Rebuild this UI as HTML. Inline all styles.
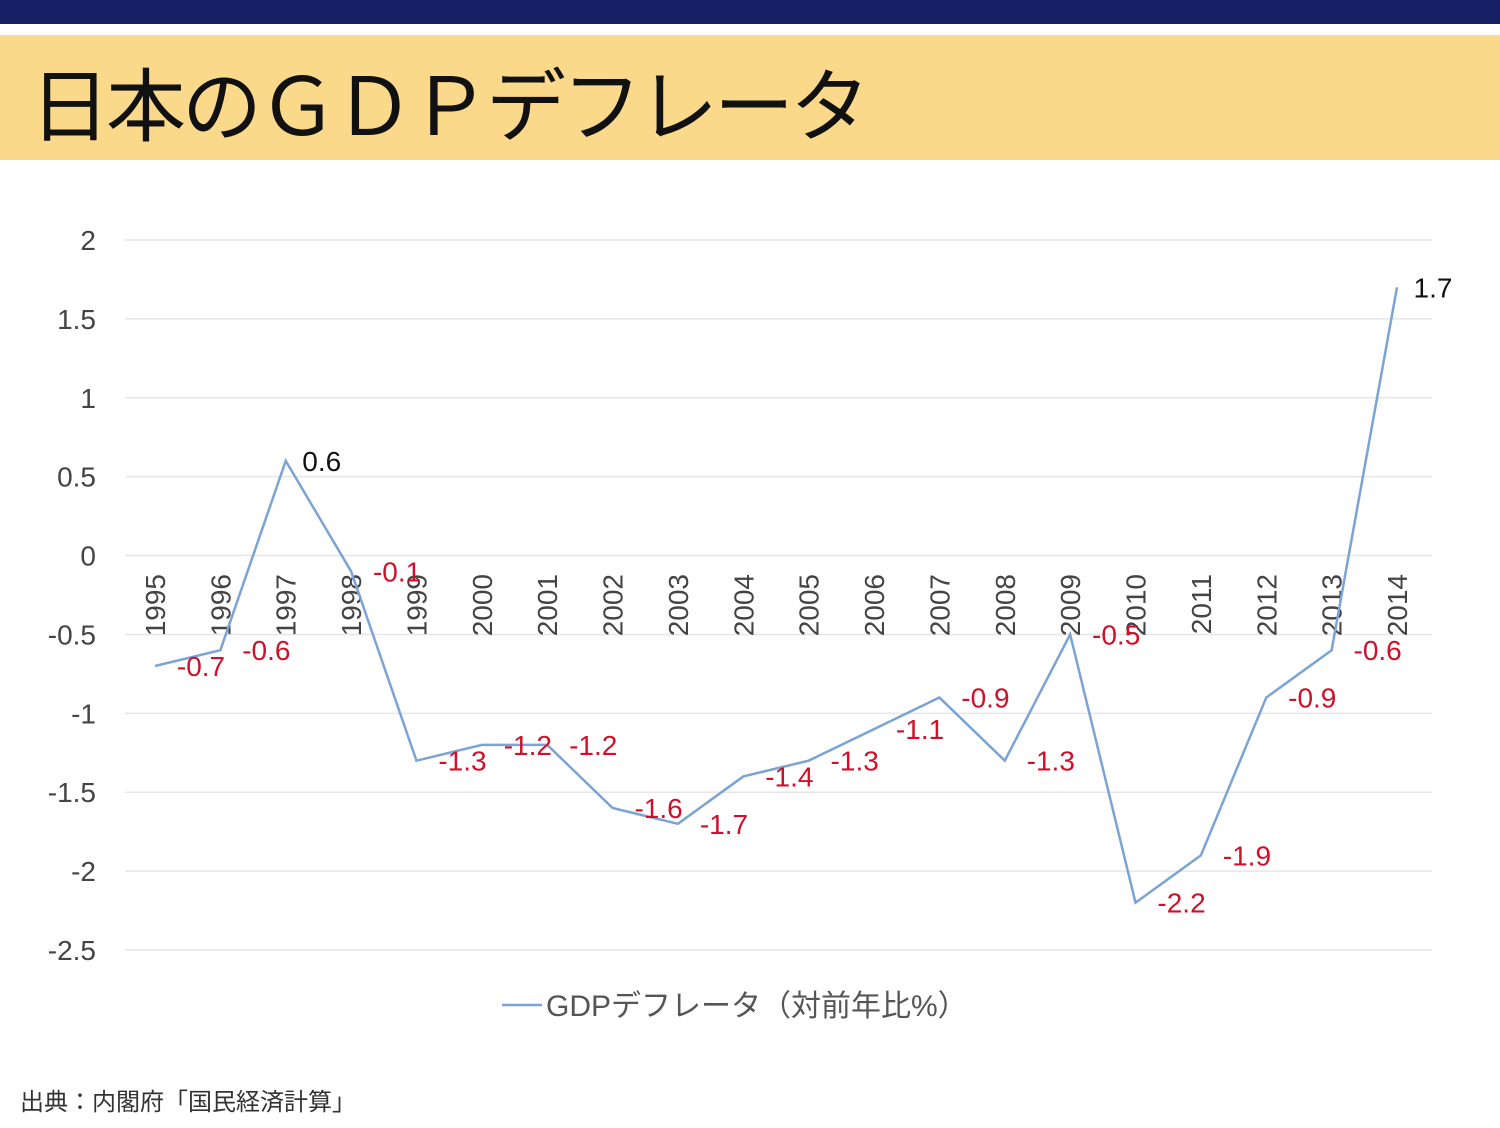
<!DOCTYPE html>
<html><head><meta charset="utf-8"><style>
body{margin:0;width:1500px;height:1128px;background:#fff;overflow:hidden;position:relative;font-family:"Liberation Sans","Noto Sans CJK JP",sans-serif}
#nav{position:absolute;left:0;top:0;width:1500px;height:24px;background:#172065}
#band{position:absolute;left:0;top:35px;width:1500px;height:125px;background:#fbd98a}
#title{position:absolute;left:30px;top:56px;font-size:80px;line-height:90px;color:#111;font-family:"Noto Sans CJK JP",sans-serif;font-weight:400;letter-spacing:-4px;white-space:nowrap}
#src{position:absolute;left:20px;top:1082px;font-size:24px;color:#333;font-family:"Noto Sans CJK JP",sans-serif}
svg{position:absolute;left:0;top:0}
</style></head><body>
<div id="nav"></div>
<div id="band"></div>
<div id="title">日本のＧＤＰデフレータ</div>
<div id="src">出典：内閣府「国民経済計算」</div>
<svg id="chart" width="1500" height="1128"></svg>
<script>
const years=["1995","1996","1997","1998","1999","2000","2001","2002","2003","2004","2005","2006","2007","2008","2009","2010","2011","2012","2013","2014"];
const values=[-0.7,-0.6,0.6,-0.1,-1.3,-1.2,-1.2,-1.6,-1.7,-1.4,-1.3,-1.1,-0.9,-1.3,-0.5,-2.2,-1.9,-0.9,-0.6,1.7];
const yTicks=[2,1.5,1,0.5,0,-0.5,-1,-1.5,-2,-2.5];
const NS="http://www.w3.org/2000/svg";
const svg=document.getElementById('chart');
const y=v=>240+(2-v)*(710/4.5);
const x=i=>155+i*(1242/19);
function mk(t,a,txt){const e=document.createElementNS(NS,t);for(const k in a)e.setAttribute(k,a[k]);if(txt!==undefined)e.textContent=txt;svg.appendChild(e);return e;}
yTicks.forEach(t=>{
 const g=mk('line',{x1:125,x2:1432,y1:y(t),y2:y(t),stroke:'#e6e6e6','stroke-width':1.5});
 
 
 const l=mk('text',{x:96,y:y(t)+10,'text-anchor':'end','font-size':28,fill:'#444'},String(t));
 
 
});
years.forEach((yr,i)=>{
 const t=mk('text',{x:0,y:0,'font-size':28,fill:'#444','text-anchor':'end',transform:`translate(${x(i)+10},574) rotate(-90)`},yr);
 
 
});
const pts=values.map((v,i)=>x(i)+','+y(v)).join(' ');
const pl=mk('polyline',{points:pts,fill:'none',stroke:'#7ba3d3','stroke-width':2.5});


values.forEach((v,i)=>{
 const t=mk('text',{x:x(i)+(v>0?36:46),y:y(v)+10,'text-anchor':'middle','font-size':28,fill:v>0?'#111':'#d0102a'},v.toFixed(1));
 
 
});
const ll=mk('line',{x1:502,x2:542,y1:1005,y2:1005,stroke:'#7ba3d3','stroke-width':2.5});


const lt=mk('text',{x:546,y:1016,'font-size':30,fill:'#555'},'GDPデフレータ（対前年比%）');


</script>
</body></html>
